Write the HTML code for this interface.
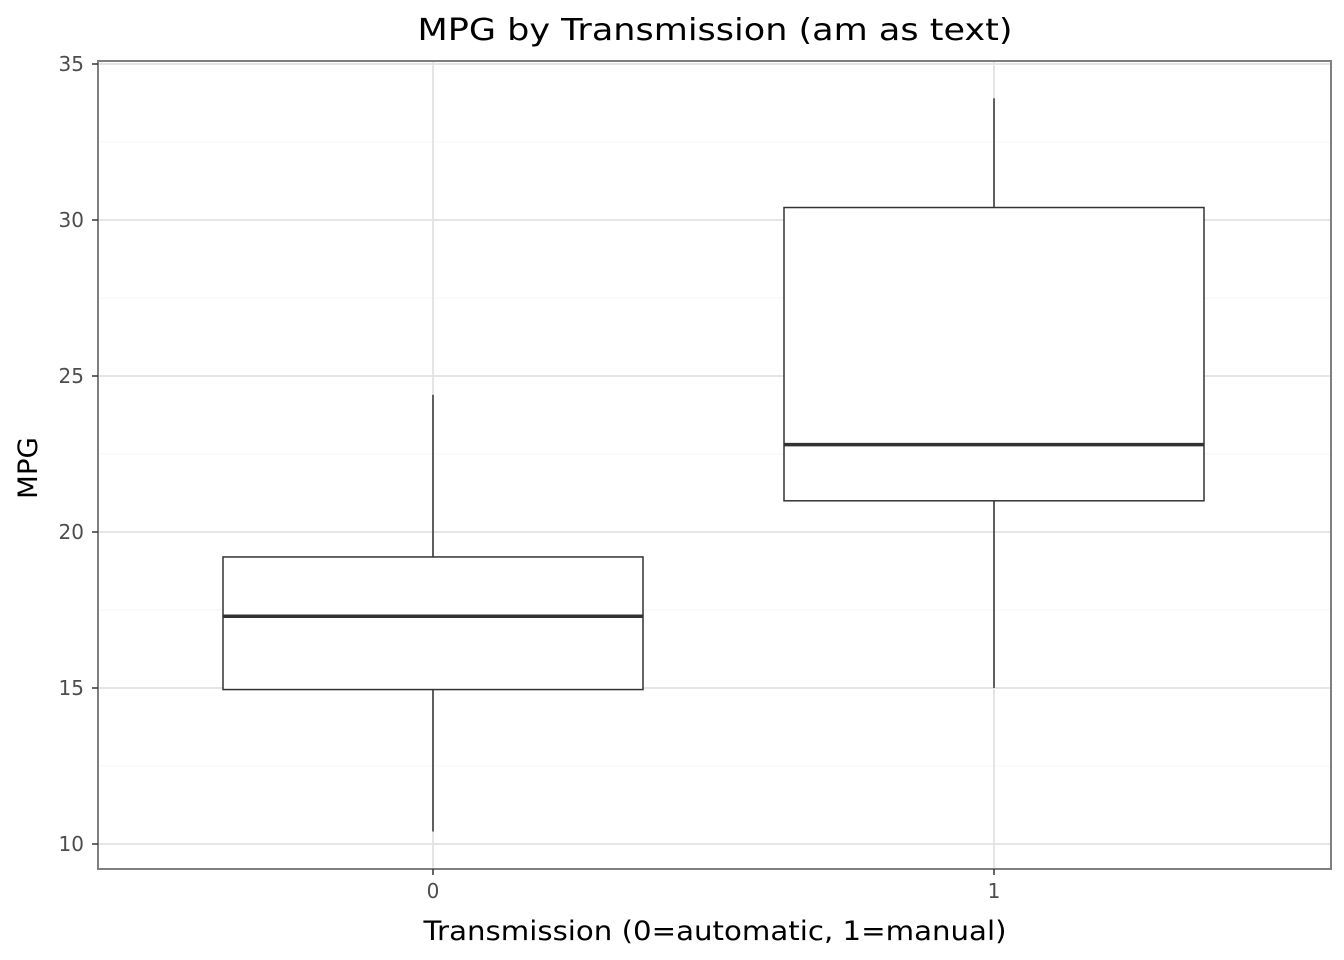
<!DOCTYPE html>
<html><head><meta charset="utf-8"><style>
html,body{margin:0;padding:0;background:#fff;}
svg{display:block;font-family:"DejaVu Sans","Liberation Sans",sans-serif;}
.tk{font-size:20px;fill:#4d4d4d;}
</style></head><body>
<svg id="chart" width="1344" height="960" viewBox="0 0 1344 960">
<rect width="1344" height="960" fill="#fff"/>
<text x="715" y="40" text-anchor="middle" style="font-size:30px" textLength="595" lengthAdjust="spacingAndGlyphs" fill="#000">MPG by Transmission (am as text)</text>
<g id="grid"></g>
<g id="boxes"></g>
<rect x="98" y="61" width="1233" height="808" fill="none" stroke="#7f7f7f" stroke-width="2"/>
<g id="axes"></g>
<text x="715" y="940" text-anchor="middle" style="font-size:27px" textLength="583" lengthAdjust="spacingAndGlyphs" fill="#000">Transmission (0=automatic, 1=manual)</text>
<text transform="translate(37,468) rotate(-90)" text-anchor="middle" style="font-size:27px" textLength="62" lengthAdjust="spacingAndGlyphs" fill="#000">MPG</text>
</svg>
<script>
const categories = ["0","1"];
const mins = [10.4, 15.0];
const q1s = [14.95, 21.0];
const medians = [17.3, 22.8];
const q3s = [19.2, 30.4];
const maxs = [24.4, 33.9];
const yTicks = [10,15,20,25,30,35];
const yMinor = [12.5,17.5,22.5,27.5,32.5];

const NS="http://www.w3.org/2000/svg";
function y(v){return 844 - (v-10)*31.2;}
function x(i){return 433 + i*561;}
const halfW=210;
function mk(tag,attrs,parent){const e=document.createElementNS(NS,tag);for(const k in attrs)e.setAttribute(k,attrs[k]);parent.appendChild(e);return e;}
const grid=document.getElementById('grid'), boxes=document.getElementById('boxes'), axes=document.getElementById('axes');
yMinor.forEach(v=>{const l=mk('line',{x1:98,x2:1331,y1:y(v),y2:y(v),stroke:'#f5f5f5','stroke-width':1},grid);

});
yTicks.forEach(v=>{const l=mk('line',{x1:98,x2:1331,y1:y(v),y2:y(v),stroke:'#e5e5e5','stroke-width':2},grid);


const t=mk('line',{x1:92,x2:98,y1:y(v),y2:y(v),stroke:'#333','stroke-width':1.5},axes);


const tx=mk('text',{x:84,y:y(v)+7,'text-anchor':'end','class':'tk'},axes);tx.textContent=v;

});
categories.forEach((c,i)=>{const l=mk('line',{x1:x(i),x2:x(i),y1:61,y2:869,stroke:'#e5e5e5','stroke-width':2},grid);


const t=mk('line',{x1:x(i),x2:x(i),y1:869,y2:875,stroke:'#333','stroke-width':1.5},axes);


const tx=mk('text',{x:x(i),y:898,'text-anchor':'middle','class':'tk'},axes);tx.textContent=c;


const g=mk('g',{},boxes);


mk('line',{x1:x(i),x2:x(i),y1:y(maxs[i]),y2:y(q3s[i]),stroke:'#333','stroke-width':1.5},g);
mk('line',{x1:x(i),x2:x(i),y1:y(q1s[i]),y2:y(mins[i]),stroke:'#333','stroke-width':1.5},g);
mk('rect',{x:x(i)-halfW,y:y(q3s[i]),width:halfW*2,height:y(q1s[i])-y(q3s[i]),fill:'#fff',stroke:'#333','stroke-width':1.5},g);
mk('line',{x1:x(i)-halfW,x2:x(i)+halfW,y1:y(medians[i]),y2:y(medians[i]),stroke:'#333','stroke-width':3.5},g);
});
</script>
</body></html>
